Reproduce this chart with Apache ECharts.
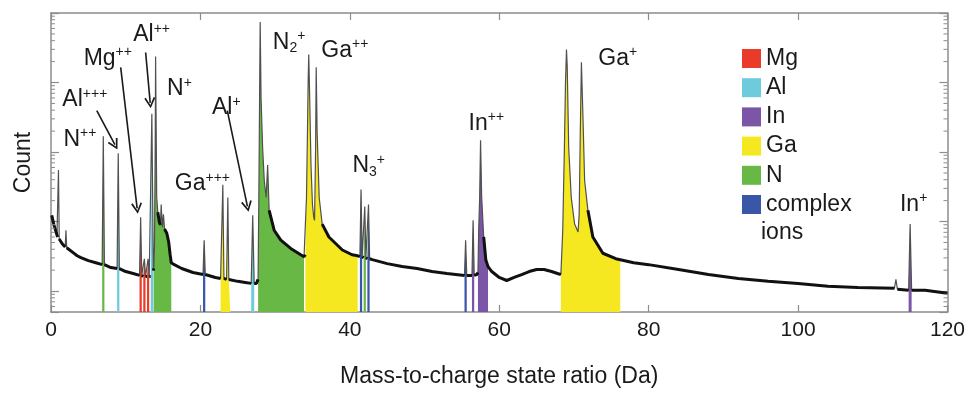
<!DOCTYPE html>
<html>
<head>
<meta charset="utf-8">
<script src="https://cdn.jsdelivr.net/npm/echarts@6/dist/echarts.min.js"></script>
<style>
  html, body { margin: 0; padding: 0; background: #ffffff; }
  #chart { width: 968px; height: 393px; }
</style>
</head>
<body>
<div id="chart"></div>
<script>
// Mass spectrum: [m/z (Da), counts, 1 = point on a sharp peak body]
const spectrum = [
  [0.1, 123], [0.4, 89], [0.8, 64], [0.9, 60], [1.0, 553, 1], [1.1, 56],
  [1.5, 48], [1.9, 43], [2.0, 75, 1], [2.1, 42], [2.5, 39], [3.0, 35.5],
  [3.5, 32.2], [4.0, 30.2], [5.0, 27.4], [6.0, 25.6],
  [6.85, 24.0], [7.0, 1680, 1], [7.15, 24.0], [8.0, 21.8],
  [8.85, 21.1], [9.0, 964, 1], [9.15, 21.1], [10.0, 19.1], [11.0, 17.9],
  [11.85, 16.8], [12.0, 115, 1], [12.15, 16.8],
  [12.35, 16.2], [12.5, 29.2, 1], [12.65, 16.2],
  [12.85, 16.2], [13.0, 29.2, 1], [13.15, 16.2],
  [13.35, 16.2], [13.5, 3560, 1], [13.7, 19.7],
  [13.75, 21.1], [13.85, 43, 1], [13.95, 1135, 1], [14.0, 23700, 1], [14.15, 222, 1],
  [14.3, 136], [14.5, 98], [14.65, 89], [14.75, 176, 1], [14.9, 83],
  [15.05, 127, 1], [15.2, 78], [15.5, 68], [15.75, 51], [15.95, 33.3], [16.1, 25.6],
  [16.5, 24.0], [17.5, 21.1], [19.0, 18.5],
  [20.35, 17.3], [20.5, 54, 1], [20.65, 17.3], [22.0, 15.7],
  [22.7, 15.2], [23.0, 339, 1], [23.15, 15.2], [23.5, 14.7], [23.67, 222, 1],
  [23.8, 14.7], [24.0, 14.2], [25.0, 13.8], [26.0, 13.3],
  [26.8, 12.9], [27.0, 123, 1], [27.2, 12.9], [27.5, 12.9],
  [27.72, 14.7], [27.82, 222, 1], [27.92, 5820, 1], [28.0, 74500, 1], [28.12, 5820, 1],
  [28.33, 1135, 1], [28.55, 386, 1], [28.8, 222, 1], [29.0, 652, 1], [29.2, 145],
  [29.87, 75], [30.76, 54], [32.09, 41], [33.43, 33.3], [33.87, 31.2],
  [34.05, 33.3], [34.2, 222, 1], [34.33, 1980, 1], [34.42, 10150, 1], [34.5, 25350, 1],
  [34.63, 5820, 1], [34.8, 652, 1], [35.0, 176, 1], [35.17, 115, 1], [35.28, 104, 1],
  [35.42, 1135, 1], [35.5, 16550, 1], [35.62, 1980, 1], [35.9, 222, 1],
  [36.3, 92], [37.2, 60], [39.0, 39], [40.3, 33.3], [41.05, 32.2],
  [41.35, 31.2], [41.5, 288, 1], [41.65, 31.2],
  [41.85, 30.2], [42.0, 165, 1], [42.15, 30.2],
  [42.35, 29.2], [42.5, 176, 1], [42.65, 29.2],
  [43.0, 28.3], [45.0, 24.8], [47.0, 22.5], [49.0, 21.1], [51.0, 19.1], [53.0, 17.9],
  [55.35, 16.8], [55.5, 54, 1], [55.65, 16.8], [56.0, 16.8],
  [56.35, 16.8], [56.5, 104, 1], [56.65, 16.8], [57.0, 17.3],
  [57.15, 18.5], [57.25, 75, 1], [57.38, 222, 1], [57.5, 1475, 1], [57.65, 222, 1],
  [57.92, 60], [58.2, 28.3], [58.5, 22.5], [59.0, 19.1],
  [60.0, 15.7], [61.0, 14.2], [62.0, 15.7], [63.0, 17.3], [64.0, 19.1], [65.0, 20.4],
  [66.0, 20.4], [67.0, 19.1], [67.8, 17.9],
  [68.25, 17.3], [68.5, 75, 1], [68.72, 1135, 1], [68.87, 10150, 1], [69.0, 29850, 1],
  [69.1, 17100, 1], [69.3, 1135, 1], [69.64, 222, 1], [70.09, 92, 1], [70.55, 71, 1],
  [70.7, 127, 1], [70.85, 1980, 1], [71.0, 19500, 1], [71.2, 3340, 1], [71.43, 386, 1],
  [71.87, 145], [72.53, 60], [73.87, 35], [75.6, 29.2], [76.2, 28.3],
  [78.0, 25.6], [80.0, 24.0], [84.0, 20.4], [88.0, 17.3], [92.0, 15.2], [96.0, 13.8],
  [100.0, 12.9], [104.0, 11.7], [108.0, 11.3], [112.9, 11.0], [113.1, 14.7, 1], [113.3, 10.6],
  [114.8, 10.3], [115.0, 92, 1], [115.2, 10.3], [117.0, 10.3], [120.0, 9.3]
];

// Ranged ions: element and m/z window of each coloured band
const rangeIon  = ['N', 'Al', 'Mg', 'Mg', 'Mg', 'Al', 'N', 'complex ions', 'Ga', 'Al', 'N', 'Ga',
                   'complex ions', 'N', 'complex ions', 'complex ions', 'In', 'In', 'Ga', 'In'];
const rangeFrom = [6.85, 8.85, 11.85, 12.35, 12.85, 13.35, 13.75, 20.35, 22.7, 26.8, 27.72, 34.05,
                   41.35, 41.85, 42.35, 55.35, 56.35, 57.15, 68.25, 114.8];
const rangeTo   = [7.15, 9.15, 12.15, 12.65, 13.15, 13.7, 16.1, 20.65, 24.0, 27.2, 33.87, 41.05,
                   41.65, 42.15, 42.65, 55.65, 56.65, 58.5, 76.2, 115.2];

const ionNames = ['Mg', 'Al', 'In', 'Ga', 'N', 'complex ions'];

// Axis ticks
const massTicks = [0, 20, 40, 60, 80, 100, 120];
const countRange = [5, 100000];
const minorCountTicks = [6, 7, 8, 9, 20, 30, 40, 50, 60, 70, 80, 90,
  200, 300, 400, 500, 600, 700, 800, 900, 2000, 3000, 4000, 5000, 6000, 7000, 8000, 9000,
  20000, 30000, 40000, 50000, 60000, 70000, 80000, 90000];

// Peak annotations (rich text) anchored in data space
const annotations = [
  { text: 'N{sup|++}', at: [3.87, 1525] },
  { text: 'Al{sup|+++}', at: [4.53, 5640] },
  { text: 'Mg{sup|++}', at: [7.6, 22200] },
  { text: 'Al{sup|++}', at: [13.47, 48700] },
  { text: 'N{sup|+}', at: [17.2, 8070] },
  { text: 'Ga{sup|+++}', at: [20.27, 350] },
  { text: 'Al{sup|+}', at: [23.47, 4340] },
  { text: 'N{sub|2}{sup|+}', at: [31.87, 37500] },
  { text: 'Ga{sup|++}', at: [39.33, 28900] },
  { text: 'N{sub|3}{sup|+}', at: [42.53, 631] },
  { text: 'In{sup|++}', at: [58.27, 2570] },
  { text: 'Ga{sup|+}', at: [75.87, 22200] },
  { text: 'In{sup|+}', at: [115.47, 176] }
];
const arrows = [
  [[6.13, 3940], [8.55, 1274]],
  [[9.33, 16560], [11.53, 155]],
  [[12.67, 27000], [13.28, 5100]],
  [[23.6, 3940], [26.29, 165]]
];

const ionColor = {
  'Mg': '#ea3b2a', 'Al': '#6ecbdb', 'In': '#7b55a6',
  'Ga': '#f6e820', 'N': '#68b846', 'complex ions': '#3a56a6'
};
const FONT = '"Liberation Sans", Arial, Helvetica, sans-serif';
const INK = '#1a1a1a';
const FRAME = '#8c8c8c';

const chart = echarts.init(document.getElementById('chart'), null, { renderer: 'canvas' });

const fillSeries = rangeIon.map((ion, i) => ({
  type: 'line',
  name: ion,
  data: spectrum.filter(p => p[0] >= rangeFrom[i] && p[0] <= rangeTo[i]).map(p => [p[0], p[1]]),
  symbol: 'none',
  color: ionColor[ion],
  itemStyle: { color: ionColor[ion] },
  lineStyle: { width: 0 },
  areaStyle: { color: ionColor[ion], opacity: 1, origin: 'start' },
  silent: true,
  z: 2
}));

const xCommon = {
  type: 'value',
  min: massTicks[0],
  max: massTicks[massTicks.length - 1],
  interval: massTicks[1] - massTicks[0],
  axisLine: { show: true, onZero: false, lineStyle: { color: FRAME, width: 1.5 } },
  axisTick: { show: true, inside: true, length: 7, lineStyle: { color: FRAME, width: 1.2 } },
  splitLine: { show: false }
};
const yCommon = {
  type: 'log',
  logBase: 10,
  min: countRange[0],
  max: countRange[1],
  axisLine: { show: true, onZero: false, lineStyle: { color: FRAME, width: 1.5 } },
  axisTick: { show: true, inside: true, length: 8, lineStyle: { color: FRAME, width: 1.2 } },
  axisLabel: { show: false },
  splitLine: { show: false },
  minorTick: { show: false }
};

chart.setOption({
  animation: false,
  backgroundColor: '#ffffff',
  grid: { left: 51, right: 17, top: 13, bottom: 77, containLabel: false },
  xAxis: [
    Object.assign({}, xCommon, {
      position: 'bottom',
      axisLabel: { show: true, fontSize: 21, color: INK, fontFamily: FONT, margin: 8 },
      name: 'Mass-to-charge state ratio (Da)',
      nameLocation: 'middle',
      nameGap: 53,
      nameTextStyle: { fontSize: 23, color: INK, fontFamily: FONT }
    }),
    Object.assign({}, xCommon, { position: 'top', axisLabel: { show: false } })
  ],
  yAxis: [
    Object.assign({}, yCommon, {
      position: 'left',
      name: 'Count',
      nameLocation: 'middle',
      nameRotate: 90,
      nameGap: 16,
      nameTextStyle: { fontSize: 23, color: INK, fontFamily: FONT }
    }),
    Object.assign({}, yCommon, { position: 'right' })
  ],
  legend: {
    data: ionNames,
    orient: 'vertical',
    left: 737,
    top: 42,
    icon: 'rect',
    itemWidth: 19,
    itemHeight: 19,
    itemGap: 6.2,
    selectedMode: false,
    formatter: n => (n === 'complex ions' ? 'complex' : n),
    textStyle: { fontSize: 23, color: INK, fontFamily: FONT }
  },
  graphic: [{
    type: 'text', left: 761, top: 221,
    style: { text: 'ions', fontSize: 23, fill: INK, fontFamily: FONT }
  }],
  series: fillSeries.concat([
    {
      type: 'line',
      name: 'spectrum',
      data: spectrum.map(p => [p[0], p[1]]),
      symbol: 'none',
      lineStyle: { color: '#505050', width: 1.2 },
      silent: true,
      z: 4
    },
    {
      type: 'line',
      name: 'background',
      data: spectrum.map(p => (p[2] ? [p[0], '-'] : [p[0], p[1]])),
      connectNulls: false,
      symbol: 'none',
      lineStyle: { color: '#111111', width: 3 },
      silent: true,
      z: 5
    },
    {
      type: 'custom',
      name: 'minor ticks',
      coordinateSystem: 'cartesian2d',
      data: minorCountTicks.map(v => [massTicks[0], v]),
      encode: { x: 0, y: 1 },
      clip: false,
      silent: true,
      z: 6,
      renderItem: (params, api) => {
        const v = api.value(1);
        const l = api.coord([massTicks[0], v]);
        const r = api.coord([massTicks[massTicks.length - 1], v]);
        const st = { stroke: FRAME, lineWidth: 1 };
        return {
          type: 'group',
          children: [
            { type: 'line', shape: { x1: l[0], y1: l[1], x2: l[0] + 4, y2: l[1] }, style: st },
            { type: 'line', shape: { x1: r[0], y1: r[1], x2: r[0] - 4, y2: r[1] }, style: st }
          ]
        };
      }
    },
    {
      type: 'lines',
      name: 'arrows',
      coordinateSystem: 'cartesian2d',
      polyline: false,
      symbol: ['none', 'path://M0,9 L5,0 L10,9 L8.6,9.8 L5,3 L1.4,9.8 Z'],
      symbolSize: 11,
      lineStyle: { color: INK, width: 1.6, opacity: 1, curveness: 0 },
      data: arrows.map(a => ({ coords: a })),
      silent: true,
      z: 8
    },
    {
      type: 'scatter',
      name: 'labels',
      symbolSize: 0,
      itemStyle: { opacity: 1 },
      data: annotations.map(a => ({ value: a.at, label: { formatter: a.text } })),
      label: {
        show: true,
        position: 'inside',
        fontSize: 23,
        lineHeight: 26,
        color: INK,
        opacity: 1,
        fontFamily: FONT,
        rich: {
          sup: { fontSize: 14, lineHeight: 14, verticalAlign: 'top', color: INK, fontFamily: FONT },
          sub: { fontSize: 14, lineHeight: 14, verticalAlign: 'bottom', color: INK, fontFamily: FONT }
        }
      },
      emphasis: { disabled: true },
      silent: true,
      z: 9
    }
  ])
});
</script>
</body>
</html>
